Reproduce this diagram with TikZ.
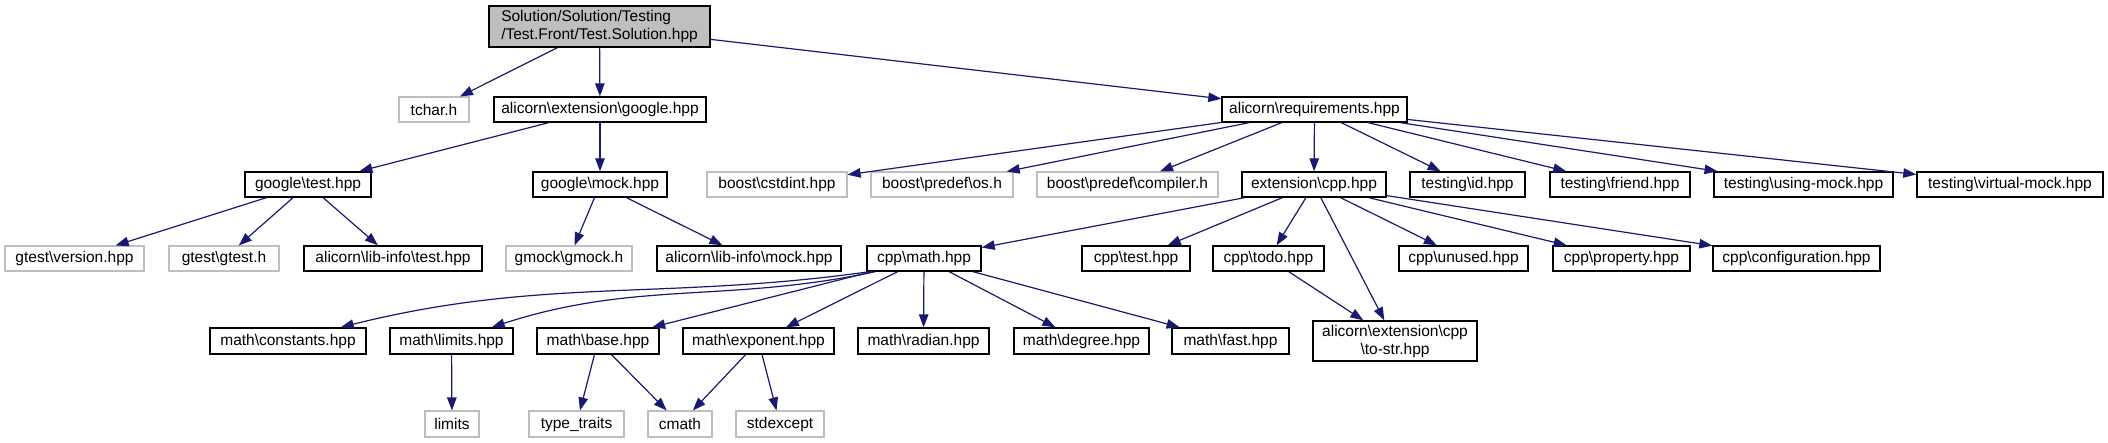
\documentclass[tikz,border=0pt]{standalone}
\usepackage{fontspec}
\setmainfont{Liberation Sans}
\usetikzlibrary{arrows.meta}
\definecolor{edgeblue}{HTML}{191970}
\definecolor{extgray}{HTML}{BFBFBF}
\newcommand{\bsl}{\textbackslash}
\tikzset{
  box/.style={draw=black,line width=1.4pt,fill=white,inner sep=2pt,minimum height=25pt,font=\fontsize{15.5}{18}\selectfont},
  xbox/.style={box,draw=extgray,line width=1.1pt},
  rbox/.style={box,fill=extgray,align=left,minimum height=41pt},
  ar/.style={-{Triangle[length=13pt,width=9.5pt]},line width=1.2pt,draw=edgeblue},
}

\begin{document}
\begin{tikzpicture}[x=1pt,y=-1pt]
\useasboundingbox (0,0) rectangle (2108,443);
% row 0
\node[rbox,minimum width=221pt] (root) at (599.5,26.5) {Solution/Solution/Testing\\/Test.Front/Test.Solution.hpp};
% row 1
\node[xbox,minimum width=70pt] (tchar) at (434,109.5) {tchar.h};
\node[box,minimum width=212pt] (gext) at (600,109.5) {alicorn\bsl extension\bsl google.hpp};
\node[box,minimum width=185pt] (req) at (1314.5,109.5) {alicorn\bsl requirements.hpp};
% row 2
\node[box,minimum width=126pt] (gtest) at (308,184.5) {google\bsl test.hpp};
\node[box,minimum width=134pt] (gmock) at (600,184.5) {google\bsl mock.hpp};
\node[xbox,minimum width=140pt] (cstdint) at (777,184.5) {boost\bsl cstdint.hpp};
\node[xbox,minimum width=142pt] (osh) at (942,184.5) {boost\bsl predef\bsl os.h};
\node[xbox,minimum width=181pt] (compiler) at (1127.5,184.5) {boost\bsl predef\bsl compiler.h};
\node[box,minimum width=144pt] (extcpp) at (1314,184.5) {extension\bsl cpp.hpp};
\node[box,minimum width=115pt] (tid) at (1467.5,184.5) {testing\bsl id.hpp};
\node[box,minimum width=140pt] (tfriend) at (1620,184.5) {testing\bsl friend.hpp};
\node[box,minimum width=179pt] (tusing) at (1803.5,184.5) {testing\bsl using-mock.hpp};
\node[box,minimum width=186pt] (tvirtual) at (2010,184.5) {testing\bsl virtual-mock.hpp};
% row 3
\node[xbox,minimum width=139pt] (gver) at (74.5,258.5) {gtest\bsl version.hpp};
\node[xbox,minimum width=110pt] (ggtest) at (224,258.5) {gtest\bsl gtest.h};
\node[box,minimum width=178pt] (litest) at (393,258.5) {alicorn\bsl lib-info\bsl test.hpp};
\node[xbox,minimum width=126pt] (ggmock) at (569,258.5) {gmock\bsl gmock.h};
\node[box,minimum width=184pt] (limock) at (749,258.5) {alicorn\bsl lib-info\bsl mock.hpp};
\node[box,minimum width=114pt] (cmath) at (924,258.5) {cpp\bsl math.hpp};
\node[box,minimum width=108pt] (ctest) at (1136,258.5) {cpp\bsl test.hpp};
\node[box,minimum width=111pt] (ctodo) at (1268.5,258.5) {cpp\bsl todo.hpp};
\node[box,minimum width=129pt] (cunused) at (1463.5,258.5) {cpp\bsl unused.hpp};
\node[box,minimum width=137pt] (cprop) at (1621.5,258.5) {cpp\bsl property.hpp};
\node[box,minimum width=167pt] (cconf) at (1796.5,258.5) {cpp\bsl configuration.hpp};
% row 4
\node[box,minimum width=156pt,minimum height=26pt] (mconst) at (288,341) {math\bsl constants.hpp};
\node[box,minimum width=123pt,minimum height=26pt] (mlimits) at (451.5,341) {math\bsl limits.hpp};
\node[box,minimum width=122pt,minimum height=26pt] (mbase) at (598,341) {math\bsl base.hpp};
\node[box,minimum width=151pt,minimum height=26pt] (mexp) at (758.5,341) {math\bsl exponent.hpp};
\node[box,minimum width=131pt,minimum height=26pt] (mrad) at (923.5,341) {math\bsl radian.hpp};
\node[box,minimum width=135pt,minimum height=26pt] (mdeg) at (1081.5,341) {math\bsl degree.hpp};
\node[box,minimum width=117pt,minimum height=26pt] (mfast) at (1230.5,341) {math\bsl fast.hpp};
\node[box,minimum width=164pt,minimum height=40pt,align=center] (tostr) at (1395,341) {alicorn\bsl extension\bsl cpp\\\bsl to-str.hpp};
% row 5
\node[xbox,minimum width=54pt,minimum height=26pt] (limits) at (452,424) {limits};
\node[xbox,minimum width=95pt,minimum height=26pt] (ttraits) at (576.5,424) {type\_traits};
\node[xbox,minimum width=64pt,minimum height=26pt] (cmathstd) at (680,424) {cmath};
\node[xbox,minimum width=88pt,minimum height=26pt] (stdexc) at (780,424) {stdexcept};
% includes
\path (root) edge[ar] (tchar) edge[ar] (gext) edge[ar] (req);
\path (gext) edge[ar] (gtest) edge[ar] (gmock);
\path (req) edge[ar] (cstdint) edge[ar] (osh) edge[ar] (compiler) edge[ar] (extcpp)
  edge[ar] (tid) edge[ar] (tfriend) edge[ar] (tusing) edge[ar] (tvirtual);
\path (gtest) edge[ar] (gver) edge[ar] (ggtest) edge[ar] (litest);
\path (gmock) edge[ar] (ggmock) edge[ar] (limock);
\path (extcpp) edge[ar] (cmath) edge[ar] (ctest) edge[ar] (ctodo) edge[ar] (tostr)
  edge[ar] (cunused) edge[ar] (cprop) edge[ar] (cconf);
\path (ctodo) edge[ar] (tostr);
% these two pass under lib-info\mock
\draw[ar] ([xshift=3pt]cmath.south west) to[out=188,in=14] ([xshift=-26pt]mconst.north east);
\draw[ar] ([xshift=9pt]cmath.south west) to[out=192,in=18] ([xshift=-22pt]mlimits.north east);
\path (cmath) edge[ar] (mbase) edge[ar] (mexp) edge[ar] (mrad) edge[ar] (mdeg) edge[ar] (mfast);
\path (mlimits) edge[ar] (limits);
\path (mbase) edge[ar] (ttraits) edge[ar] (cmathstd);
\path (mexp) edge[ar] (cmathstd) edge[ar] (stdexc);
\end{tikzpicture}
\end{document}
